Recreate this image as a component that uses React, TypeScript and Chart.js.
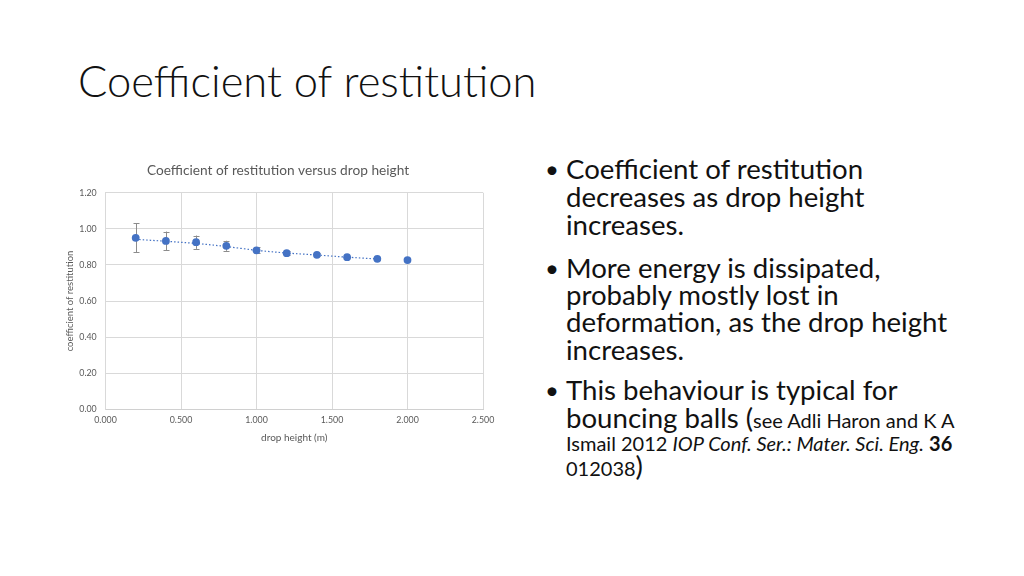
import React, { useEffect, useRef } from "react";
import { Chart, registerables } from "chart.js";

Chart.register(...registerables);

const heights = [0.2, 0.4, 0.6, 0.8, 1.0, 1.2, 1.4, 1.6, 1.8, 2.0];
const restitution = [0.95, 0.933, 0.926, 0.906, 0.881, 0.865, 0.856, 0.843, 0.834, 0.827];
const errors = [0.081, 0.052, 0.037, 0.028, 0.016, 0.011, 0.008, 0.007, 0.005, 0.0];
const trendHeights = [0.2, 0.4, 0.6, 0.8, 1.0, 1.2, 1.4, 1.6, 1.8];
const trendValues = [0.942, 0.931, 0.919, 0.902, 0.881, 0.866, 0.855, 0.843, 0.833];
const xTicks = [0, 0.5, 1.0, 1.5, 2.0, 2.5];
const yTicks = [0, 0.2, 0.4, 0.6, 0.8, 1.0, 1.2];

const FONT = "Lato, 'Open Sans', sans-serif";
const GREY = "#595959";
const BLUE = "#4472C4";

const errorBarPlugin = {
  id: "errorBars",
  afterLayout(chart: any) {
    if (chart.titleBlock) chart.titleBlock.right = chart.width - 14;
  },
  beforeDatasetsDraw(chart: any) {
    const ctx = chart.ctx;
    const xs = chart.scales.x;
    const ys = chart.scales.y;
    ctx.save();
    ctx.strokeStyle = "#8c8c8c";
    ctx.lineWidth = 1;
    heights.forEach((h, i) => {
      const e = errors[i];
      if (!e) return;
      const x = Math.round(xs.getPixelForValue(h)) + 0.5;
      const y1 = ys.getPixelForValue(restitution[i] + e);
      const y2 = ys.getPixelForValue(restitution[i] - e);
      ctx.beginPath();
      ctx.moveTo(x, y1);
      ctx.lineTo(x, y2);
      ctx.moveTo(x - 3, Math.round(y1) + 0.5);
      ctx.lineTo(x + 3, Math.round(y1) + 0.5);
      ctx.moveTo(x - 3, Math.round(y2) + 0.5);
      ctx.lineTo(x + 3, Math.round(y2) + 0.5);
      ctx.stroke();
    });
    ctx.restore();
  },
};

function CorChart() {
  const ref = useRef<HTMLCanvasElement>(null);
  useEffect(() => {
    if (!ref.current) return;
    const chart = new Chart(ref.current, {
      type: "scatter",
      data: {
        datasets: [
          {
            type: "line",
            data: trendHeights.map((x, i) => ({ x, y: trendValues[i] })),
            borderColor: BLUE,
            borderWidth: 1.2,
            borderDash: [1.5, 2],
            pointRadius: 0,
            fill: false,
            tension: 0.3,
            order: 2,
          } as any,
          {
            data: heights.map((x, i) => ({ x, y: restitution[i] })),
            backgroundColor: BLUE,
            borderColor: BLUE,
            pointRadius: 3.9,
            pointBorderWidth: 0,
            order: 1,
          },
        ],
      },
      options: {
        responsive: false,
        animation: false,
        devicePixelRatio: 1,
        layout: { padding: { left: 0, right: 27, top: 0, bottom: 0 } },
        plugins: {
          legend: { display: false },
          tooltip: { enabled: false },
          title: {
            display: true,
            text: "Coefficient of restitution versus drop height",
            color: GREY,
            font: { family: FONT, size: 13.7, weight: "normal" },
            padding: { top: 7.5, bottom: 13.8 },
          },
        },
        scales: {
          x: {
            type: "linear",
            min: 0,
            max: 2.5,
            afterBuildTicks: (s: any) => {
              s.ticks = xTicks.map((v) => ({ value: v }));
            },
            afterFit: (s: any) => {
              s.height = 45.7;
            },
            ticks: {
              color: GREY,
              font: { family: FONT, size: 8.8 },
              padding: 6,
              maxRotation: 0,
              callback: (v: any) => Number(v).toFixed(3),
            },
            grid: { color: "#d9d9d9", drawTicks: false },
            border: { color: "#d0d0d0" },
            title: {
              display: true,
              text: "drop height (m)",
              color: GREY,
              font: { family: FONT, size: 10 },
              padding: { top: 0, bottom: 11.3 },
            },
          },
          y: {
            type: "linear",
            min: 0,
            max: 1.2,
            afterBuildTicks: (s: any) => {
              s.ticks = yTicks.map((v) => ({ value: v }));
            },
            afterFit: (s: any) => {
              s.width = 45.5;
            },
            ticks: {
              color: GREY,
              font: { family: FONT, size: 8.8 },
              padding: 8.8,
              callback: (v: any) => Number(v).toFixed(2),
            },
            grid: { color: "#d9d9d9", drawTicks: false },
            border: { color: "#d9d9d9" },
            title: {
              display: true,
              text: "coefficient of restitution",
              color: GREY,
              font: { family: FONT, size: 9.5 },
              padding: { top: 4.3, bottom: 0 },
            },
          },
        },
      },
      plugins: [errorBarPlugin],
    } as any);
    return () => chart.destroy();
  }, []);
  return (
    <canvas
      ref={ref}
      width={450}
      height={300}
      style={{ position: "absolute", left: 60, top: 155, width: 450, height: 300 }}
    />
  );
}

const BODY = 27.6;
const SMALL = 20;

type Line = { baseline: number; bullet?: boolean; content: React.ReactNode };

const lines: Line[] = [
  { baseline: 179.3, bullet: true, content: "Coefficient of restitution" },
  { baseline: 207.3, content: "decreases as drop height" },
  { baseline: 235, content: "increases." },
  { baseline: 278.3, bullet: true, content: "More energy is dissipated," },
  { baseline: 305, content: "probably mostly lost in" },
  { baseline: 332.7, content: "deformation, as the drop height" },
  { baseline: 360.7, content: "increases." },
  { baseline: 400.7, bullet: true, content: "This behaviour is typical for" },
  {
    baseline: 428.3,
    content: (
      <>
        bouncing balls (<span style={{ fontSize: SMALL }}>see Adli Haron and K A</span>
      </>
    ),
  },
  {
    baseline: 451.7,
    content: (
      <span style={{ fontSize: SMALL }}>
        Ismail 2012 <i>IOP Conf. Ser.: Mater. Sci. Eng.</i> <b>36</b>
      </span>
    ),
  },
  {
    baseline: 476.7,
    content: (
      <>
        <span style={{ fontSize: SMALL }}>012038</span>)
      </>
    ),
  },
];

export default function App() {
  return (
    <div
      style={{
        position: "absolute",
        left: 0,
        top: 0,
        width: 1024,
        height: 576,
        background: "#ffffff",
        overflow: "hidden",
        fontFamily: FONT,
        color: "#000",
      }}
    >
      <div
        style={{
          position: "absolute",
          left: 78,
          top: 97.3 - 0.987 * 43.5,
          fontSize: 43.5,
          lineHeight: 1.2,
          fontWeight: 300,
          whiteSpace: "nowrap",
          color: "#111",
        }}
      >
        Coefficient of restitution
      </div>
      <CorChart />
      {lines.map((l, i) => (
        <div
          key={i}
          style={{
            position: "absolute",
            left: 566,
            top: l.baseline - 0.987 * BODY,
            fontSize: BODY,
            lineHeight: 1.2,
            whiteSpace: "nowrap",
            color: "#111",
          }}
        >
          {l.bullet && (
            <span style={{ position: "absolute", left: -21, top: 0, fontSize: 24, lineHeight: `${BODY * 1.2}px` }}>•</span>
          )}
          {l.content}
        </div>
      ))}
    </div>
  );
}
